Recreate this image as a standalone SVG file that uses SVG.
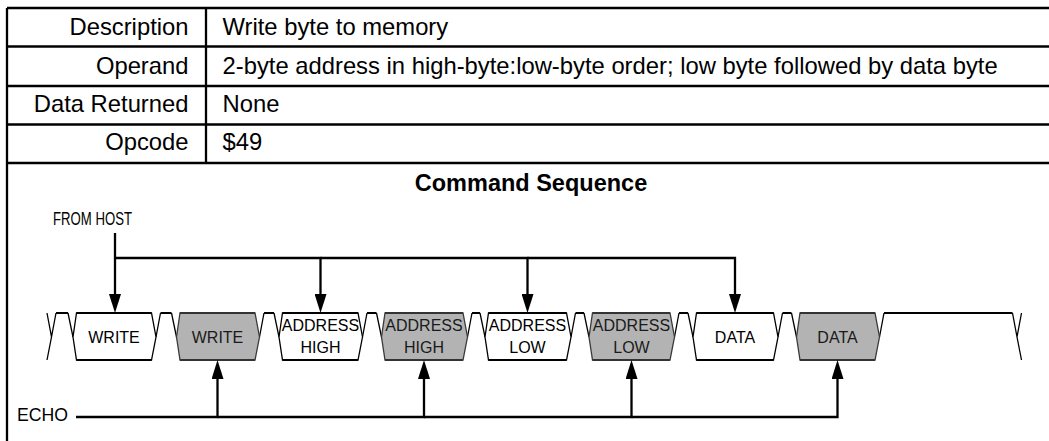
<svg xmlns="http://www.w3.org/2000/svg" width="1049" height="441" viewBox="0 0 1049 441">
<style>
.tbl{fill:none;stroke:#000;stroke-width:2.3}
.t{font-family:"Liberation Sans",Arial,Helvetica,sans-serif;font-size:23.8px;fill:#000}
.r{text-anchor:end}
.h{font-family:"Liberation Sans",Arial,Helvetica,sans-serif;font-size:23.5px;font-weight:bold;fill:#000;text-anchor:middle}
.lbl{font-family:"Liberation Sans",Arial,Helvetica,sans-serif;font-size:16px;fill:#000;text-anchor:middle}
.glbl{font-family:"Liberation Sans",Arial,Helvetica,sans-serif;font-size:16px;fill:#1a1a1a;text-anchor:middle}
.side{font-family:"Liberation Sans",Arial,Helvetica,sans-serif;font-size:17.5px;fill:#000}
.bw{fill:#fff;stroke:#000;stroke-width:1.3;stroke-linejoin:miter}
.bg{fill:#b3b3b3;stroke:#3a3a3a;stroke-width:1.3;stroke-linejoin:miter}
.ew{fill:none;stroke:#000;stroke-width:2.2}
.eg{fill:none;stroke:#333;stroke-width:1.8}
.diag{fill:none;stroke:#000;stroke-width:1.3}
.idle{fill:none;stroke:#000;stroke-width:2.2}
.arrow{fill:none;stroke:#000;stroke-width:2.3;stroke-linejoin:miter}
</style>
<defs>
<marker id="ah" markerUnits="userSpaceOnUse" markerWidth="20" markerHeight="12" viewBox="0 0 20 12" refX="9" refY="6" orient="auto"><path d="M0,0 L19,6 L0,12 Z" fill="#000"/></marker>
</defs>
<rect width="1049" height="441" fill="#fff"/>
<g id="table">
<path class="tbl" d="M7,8 H1049 M7,46.5 H1049 M7,86 H1049 M7,124.5 H1049 M7,163 H1049 M7,8 V441 M206,8 V163"/>
<text class="t r" x="188.5" y="35">Description</text>
<text class="t" x="222.5" y="35">Write byte to memory</text>
<text class="t r" x="188.5" y="74">Operand</text>
<text class="t" x="222.5" y="74">2-byte address in high-byte:low-byte order; low byte followed by data byte</text>
<text class="t r" x="188.5" y="111.5">Data Returned</text>
<text class="t" x="222.5" y="111.5">None</text>
<text class="t r" x="188.5" y="150">Opcode</text>
<text class="t" x="222.5" y="150">$49</text>
<text class="h" x="531" y="191">Command Sequence</text>
</g>
<g id="waveform">
<path class="diag" d="M47,313 L51.5,337 L47,360 M51.5,337 L56,313 M68,313 L73,337
M156,337 L160.5,313 M171.5,313 L176.5,337
M259.5,337 L264,313 M274,313 L279,337
M362.5,337 L367,313 M376.5,313 L381.5,337
M467.5,337 L472,313 M480,313 L485,337
M571,337 L575.5,313 M584,313 L589,337
M674.5,337 L679,313 M688,313 L693,337
M778,337 L782.5,313 M791.5,313 L796.5,337
M879.5,337 L884,313 M1012.5,313 L1017,337 L1021.5,313 M1017,337 L1021.5,360"/>
<path class="idle" d="M56,313 H68 M160.5,313 H171.5 M264,313 H274 M367,313 H376.5 M472,313 H480 M575.5,313 H584 M679,313 H688 M782.5,313 H791.5 M884,313 H1012.5"/>
</g>
<g id="host-write">
<polygon class="bw" points="73,337 76.5,313 151.5,313 156,337 151.5,360 76.5,360"/>
<path class="ew" d="M76.5,313 H151.5 M76.5,360 H151.5"/>
<text class="lbl" x="114" y="343">WRITE</text>
</g>
<g id="echo-write">
<polygon class="bg" points="176.5,337 180,313 255,313 259.5,337 255,360 180,360"/>
<path class="eg" d="M180,313 H255 M180,360 H255"/>
<text class="glbl" x="217.5" y="343">WRITE</text>
</g>
<g id="host-address-high">
<polygon class="bw" points="279,337 282.5,313 358,313 362.5,337 358,360 282.5,360"/>
<path class="ew" d="M282.5,313 H358 M282.5,360 H358"/>
<text class="lbl" x="320.5" y="331">ADDRESS</text>
<text class="lbl" x="320.5" y="353">HIGH</text>
</g>
<g id="echo-address-high">
<polygon class="bg" points="381.5,337 385,313 463,313 467.5,337 463,360 385,360"/>
<path class="eg" d="M385,313 H463 M385,360 H463"/>
<text class="glbl" x="424" y="331">ADDRESS</text>
<text class="glbl" x="424" y="353">HIGH</text>
</g>
<g id="host-address-low">
<polygon class="bw" points="485,337 488.5,313 566.5,313 571,337 566.5,360 488.5,360"/>
<path class="ew" d="M488.5,313 H566.5 M488.5,360 H566.5"/>
<text class="lbl" x="527.5" y="331">ADDRESS</text>
<text class="lbl" x="527.5" y="353">LOW</text>
</g>
<g id="echo-address-low">
<polygon class="bg" points="589,337 592.5,313 670,313 674.5,337 670,360 592.5,360"/>
<path class="eg" d="M592.5,313 H670 M592.5,360 H670"/>
<text class="glbl" x="631.5" y="331">ADDRESS</text>
<text class="glbl" x="631.5" y="353">LOW</text>
</g>
<g id="host-data">
<polygon class="bw" points="693,337 696.5,313 773.5,313 778,337 773.5,360 696.5,360"/>
<path class="ew" d="M696.5,313 H773.5 M696.5,360 H773.5"/>
<text class="lbl" x="735" y="343">DATA</text>
</g>
<g id="echo-data">
<polygon class="bg" points="796.5,337 800,313 875,313 879.5,337 875,360 800,360"/>
<path class="eg" d="M800,313 H875 M800,360 H875"/>
<text class="glbl" x="837.5" y="343">DATA</text>
</g>
<g id="from-host">
<text class="side" x="53" y="225" textLength="79" lengthAdjust="spacingAndGlyphs">FROM HOST</text>
</g>
<g id="echo">
<text class="side" x="17" y="421" textLength="51" lengthAdjust="spacingAndGlyphs">ECHO</text>
</g>
<g id="connectors">
<path class="arrow" d="M115,233 V303" marker-end="url(#ah)"/>
<path class="arrow" d="M115,258 H320.5 V303" marker-end="url(#ah)"/>
<path class="arrow" d="M320.5,258 H527.5 V303" marker-end="url(#ah)"/>
<path class="arrow" d="M527.5,258 H735 V303" marker-end="url(#ah)"/>
<path class="arrow" d="M76,417 H217.5 V370" marker-end="url(#ah)"/>
<path class="arrow" d="M217.5,417 H424 V370" marker-end="url(#ah)"/>
<path class="arrow" d="M424,417 H631.5 V370" marker-end="url(#ah)"/>
<path class="arrow" d="M631.5,417 H837.5 V370" marker-end="url(#ah)"/>
</g>
</svg>
